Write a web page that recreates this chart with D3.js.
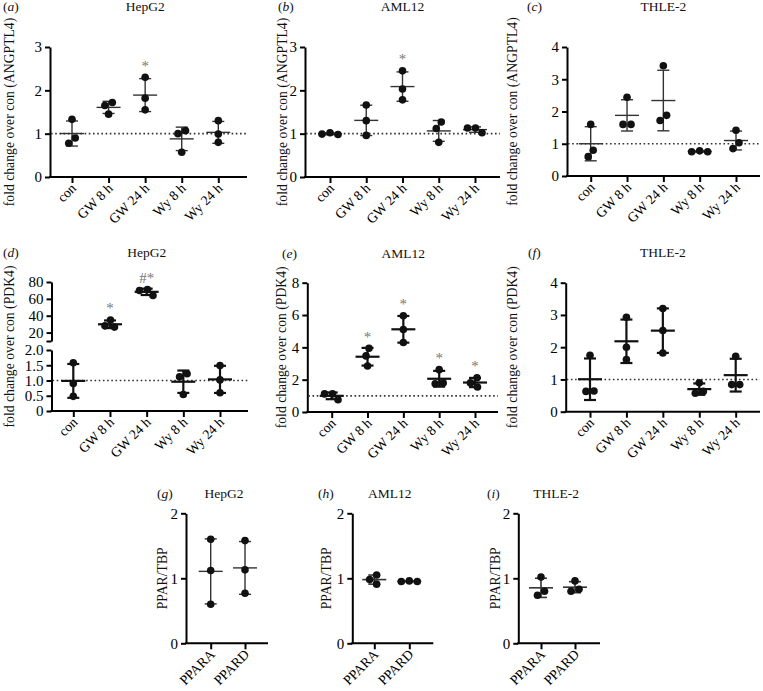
<!DOCTYPE html>
<html>
<head>
<meta charset="utf-8">
<script src="https://cdn.jsdelivr.net/npm/d3@7"></script>
<style>
  html, body { margin: 0; padding: 0; background: #fff; }
  svg { display: block; font-family: "Liberation Serif", "Times New Roman", serif; }
</style>
</head>
<body>
<svg id="chart" width="763" height="691"></svg>
<script>
// ---------------- data ----------------
const treatments = ["con", "GW 8 h", "GW 24 h", "Wy 8 h", "Wy 24 h"];
const receptors = ["PPARA", "PPARD"];

const angptl4HepG2 = [[1.33, 0.78, 0.90], [1.45, 1.72, 1.65], [2.30, 1.82, 1.55], [1.07, 1.00, 0.57], [1.30, 0.80, 0.99]];
const angptl4AML12 = [[1.02, 0.98, 0.99], [1.66, 1.30, 0.96], [2.45, 2.03, 1.78], [1.27, 1.12, 0.80], [1.13, 1.02, 1.13]];
const angptl4THLE2 = [[1.60, 0.60, 0.80], [2.44, 1.60, 1.60], [3.42, 1.72, 1.88], [0.78, 0.75, 0.75], [1.42, 0.85, 1.03]];

const pdk4HepG2 = [[1.58, 0.90, 0.48], [35, 26.5, 28], [71, 70, 64], [1.22, 1.12, 0.54], [1.49, 1.02, 0.60]];
const pdk4AML12 = [[1.12, 1.12, 0.76], [3.94, 3.47, 2.85], [5.95, 5.10, 4.30], [2.62, 1.75, 1.80], [2.12, 1.55, 1.80]];
const pdk4THLE2 = [[1.75, 0.63, 0.64], [2.93, 2.00, 1.62], [3.20, 2.52, 1.82], [0.90, 0.57, 0.63], [1.72, 0.84, 0.84]];

const pparHepG2 = [[1.60, 1.12, 0.60], [1.58, 1.13, 0.77]];
const pparAML12 = [[1.05, 0.98, 0.91], [0.96, 0.95, 0.95]];
const pparTHLE2 = [[1.02, 0.74, 0.80], [0.96, 0.80, 0.83]];

const sigA = ["", "", "*", "", ""];
const sigB = ["", "", "*", "", ""];
const sigD = ["", "*", "#*", "", ""];
const sigE = ["", "*", "*", "*", "*"];
const none5 = ["", "", "", "", ""];
const none2 = ["", ""];

const ticks3 = [0, 1, 2, 3];
const ticks4 = [0, 1, 2, 3, 4];
const ticks8 = [0, 2, 4, 6, 8];
const ticks2 = [0, 1, 2];
const ticksDLow = [0, 0.5, 1.0, 1.5, 2.0];
const ticksDHigh = [20, 40, 60, 80];

const labelANGPTL4 = "fold change over con (ANGPTL4)";
const labelPDK4 = "fold change over con (PDK4)";
const labelPPAR = "PPAR/TBP";

// ---------------- layout ----------------
const panels = [
  { tag: "a", title: "HepG2",  data: angptl4HepG2, cats: treatments, sig: sigA, ticks: ticks3, ymax: 3, ylabel: labelANGPTL4,
    x0: 50, x1: 247, c0: 72, c1: 218.3, yTop: 47, yBot: 177, tagX: 3, headY: 11, ylabX: 9, sw: 1.4, ref: true },
  { tag: "b", title: "AML12",  data: angptl4AML12, cats: treatments, sig: sigB, ticks: ticks3, ymax: 3, ylabel: labelANGPTL4,
    x0: 305, x1: 500, c0: 330, c1: 475, yTop: 47, yBot: 177, tagX: 278, headY: 11, ylabX: 282, sw: 1.4, ref: true },
  { tag: "c", title: "THLE-2", data: angptl4THLE2, cats: treatments, sig: none5, ticks: ticks4, ymax: 4, ylabel: labelANGPTL4,
    x0: 567, x1: 760, c0: 590.7, c1: 736, yTop: 47, yBot: 176, tagX: 527, headY: 11, ylabX: 512, sw: 1.4, ref: true },
  { tag: "d", title: "HepG2",  data: pdk4HepG2, cats: treatments, sig: sigD, broken: true, ylabel: labelPDK4,
    x0: 51.5, x1: 248, c0: 73.3, c1: 220, yTop: 282, yBot: 411, tagX: 3, headY: 257, ylabX: 9, sw: 2.2, ref: true },
  { tag: "e", title: "AML12",  data: pdk4AML12, cats: treatments, sig: sigE, ticks: ticks8, ymax: 8, ylabel: labelPDK4,
    x0: 307.3, x1: 498, c0: 331.7, c1: 475, yTop: 282.7, yBot: 412, tagX: 282, headY: 258, ylabX: 281, sw: 2.2, ref: true },
  { tag: "f", title: "THLE-2", data: pdk4THLE2, cats: treatments, sig: none5, ticks: ticks4, ymax: 4, ylabel: labelPDK4,
    x0: 565.7, x1: 760, c0: 590, c1: 735.7, yTop: 282.7, yBot: 411.7, tagX: 528, headY: 257, ylabX: 512, sw: 2.2, ref: true },
  { tag: "g", title: "HepG2",  data: pparHepG2, cats: receptors, sig: none2, ticks: ticks2, ymax: 2, ylabel: labelPPAR,
    x0: 186, x1: 268, c0: 210.7, c1: 245, yTop: 513.3, yBot: 643.3, tagX: 157, headY: 498, ylabX: 162, sw: 1.4, ref: false },
  { tag: "h", title: "AML12",  data: pparAML12, cats: receptors, sig: none2, ticks: ticks2, ymax: 2, ylabel: labelPPAR,
    x0: 352.3, x1: 433.3, c0: 374.3, c1: 409.3, yTop: 513.3, yBot: 643.3, tagX: 318, headY: 498, ylabX: 326, sw: 1.6, ref: false },
  { tag: "i", title: "THLE-2", data: pparTHLE2, cats: receptors, sig: none2, ticks: ticks2, ymax: 2, ylabel: labelPPAR,
    x0: 518.3, x1: 600, c0: 541, c1: 575, yTop: 513.3, yBot: 643.3, tagX: 487, headY: 498, ylabX: 495, sw: 1.6, ref: false }
];

const svg = d3.select("#chart");
const R = 3.8, D = 8;

function swarm(vals, yFn) {
  const pts = vals.map(v => ({ v, y: yFn(v), x: 0 }));
  const order = pts.slice().sort((a, b) => a.y - b.y);
  const placed = [];
  for (const p of order) {
    let best = null;
    for (let m = 0; m <= 40 && best === null; m += 0.5) {
      for (const s of (m === 0 ? [0] : [-m, m])) {
        if (placed.every(q => Math.hypot(q.x - s, q.y - p.y) >= D)) { best = s; break; }
      }
    }
    p.x = best; placed.push(p);
  }
  const visited = new Set();
  for (const p of order) {
    if (visited.has(p)) continue;
    const cl = [p]; visited.add(p);
    for (let k = 0; k < cl.length; k++) {
      for (const q of order) {
        if (!visited.has(q) && Math.abs(q.y - cl[k].y) < D) { visited.add(q); cl.push(q); }
      }
    }
    if (cl.length > 1) {
      const mx = d3.mean(cl, c => c.x);
      cl.forEach(c => c.x -= mx);
    }
  }
  return pts;
}

panels.forEach(P => {
  const g = svg.append("g");
  const x = d3.scalePoint().domain(P.cats).range([P.c0, P.c1]);

  let yOf, yAxes = [];
  if (P.broken) {
    const yHigh = d3.scaleLinear().domain([10, 80]).range([341, P.yTop]);
    const yLow = d3.scaleLinear().domain([0, 2]).range([P.yBot, 350]);
    yOf = v => v > 5 ? yHigh(v) : yLow(v);
    yAxes.push(d3.axisLeft(yHigh).tickValues([10].concat(ticksDHigh)).tickFormat(d => d === 10 ? "" : d));
    yAxes.push(d3.axisLeft(yLow).tickValues(ticksDLow).tickFormat(d => d === 0 ? "0" : d3.format(".1f")(d)));
  } else {
    const y = d3.scaleLinear().domain([0, P.ymax]).range([P.yBot, P.yTop]);
    yOf = y;
    yAxes.push(d3.axisLeft(y).tickValues(P.ticks).tickFormat(d3.format("d")));
  }

  yAxes.forEach(ax => {
    const ga = g.append("g").attr("transform", `translate(${P.x0},0)`)
      .call(ax.tickSize(5).tickSizeOuter(0).tickPadding(3));
    ga.select(".domain").attr("stroke", "#000").attr("stroke-width", 2);
    ga.selectAll(".tick line").attr("stroke", "#000").attr("stroke-width", 2);
    ga.selectAll(".tick text").attr("font-size", 15).attr("font-family", "Liberation Serif").attr("fill", "#000");
  });

  const gx = g.append("g").attr("transform", `translate(0,${P.yBot})`)
    .call(d3.axisBottom(x).tickSize(6).tickSizeOuter(0));
  gx.select(".domain").remove();
  gx.selectAll(".tick line").attr("stroke", "#000").attr("stroke-width", 2);
  gx.selectAll(".tick text").remove();
  g.append("line").attr("x1", P.x0 - 1).attr("x2", P.x1).attr("y1", P.yBot).attr("y2", P.yBot)
    .attr("stroke", "#000").attr("stroke-width", 2);

  g.selectAll("text.cat").data(P.cats).join("text")
    .attr("class", "cat")
    .attr("transform", d => `translate(${x(d) + 5},${P.yBot + 12}) rotate(-45)`)
    .attr("text-anchor", "end")
    .attr("font-size", 13.8)
    .attr("fill", "#000")
    .text(d => d);

  if (P.ref) {
    g.append("line").attr("x1", P.x0 + 1).attr("x2", P.x1).attr("y1", yOf(1)).attr("y2", yOf(1))
      .attr("stroke", "#333").attr("stroke-width", 1.6).attr("stroke-dasharray", "1.6,2.6");
  }

  P.data.forEach((vals, i) => {
    const cx = x(P.cats[i]);
    const m = d3.mean(vals), sd = d3.deviation(vals);
    const col = P.sw > 2 ? "#111" : "#333";
    const gg = g.append("g");
    gg.append("line").attr("x1", cx).attr("x2", cx).attr("y1", yOf(m + sd)).attr("y2", yOf(m - sd))
      .attr("stroke", col).attr("stroke-width", P.sw);
    [m + sd, m - sd].forEach(v => {
      gg.append("line").attr("x1", cx - 6).attr("x2", cx + 6).attr("y1", yOf(v)).attr("y2", yOf(v))
        .attr("stroke", col).attr("stroke-width", P.sw);
    });
    gg.append("line").attr("x1", cx - 12).attr("x2", cx + 12).attr("y1", yOf(m)).attr("y2", yOf(m))
      .attr("stroke", col).attr("stroke-width", P.sw);
    const pts = swarm(vals, yOf);
    gg.selectAll("circle").data(pts).join("circle")
      .attr("cx", p => cx + p.x).attr("cy", p => p.y).attr("r", R).attr("fill", "#111");
    if (P.sig[i]) {
      const top = Math.min(yOf(m + sd), d3.min(pts, p => p.y) - R);
      g.append("text").attr("x", cx).attr("y", top - 3).attr("text-anchor", "middle")
        .attr("font-size", 15).attr("fill", "#777").text(P.sig[i]);
    }
  });

  const midX = P.cats.length === 5 ? x(P.cats[2]) : (P.x0 + P.x1) / 2 - 3;
  g.append("text").attr("x", midX).attr("y", P.headY).attr("text-anchor", "middle")
    .attr("font-size", 13.5).attr("fill", "#111").text(P.title);
  const tg = g.append("text").attr("x", P.tagX).attr("y", P.headY).attr("font-size", 13.5).attr("fill", "#111");
  tg.append("tspan").text("(");
  tg.append("tspan").attr("font-style", "italic").text(P.tag);
  tg.append("tspan").text(")");
  g.append("text")
    .attr("transform", `translate(${P.ylabX},${(P.yTop + P.yBot) / 2}) rotate(-90)`)
    .attr("text-anchor", "middle").attr("dy", "0.35em")
    .attr("font-size", 13.7).attr("fill", "#111").text(P.ylabel);
});
</script>
</body>
</html>
